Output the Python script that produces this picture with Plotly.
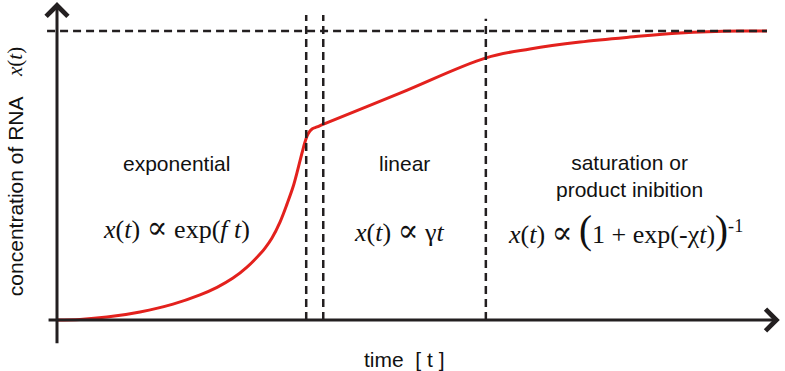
import plotly.graph_objects as go

# ---- data (schematic growth curve of RNA concentration) ----
t_vals = [0, 0.324, 0.704, 1.169, 1.634, 2.014, 2.254, 2.479, 2.676, 2.859, 2.930, 3.028,
          3.141, 3.239, 3.324, 3.394, 3.451, 3.493, 3.535, 3.592, 3.662, 3.746, 4.831,
          6.042, 6.662, 7.366, 8.070, 8.775, 9.620, 10.0]
x_vals = [0, 0.002, 0.010, 0.028, 0.055, 0.087, 0.113, 0.145, 0.183, 0.228, 0.249, 0.284,
          0.339, 0.401, 0.460, 0.523, 0.578, 0.616, 0.644, 0.661, 0.668, 0.677, 0.785,
          0.907, 0.938, 0.962, 0.979, 0.993, 1.0, 1.0]
phase_bounds = [3.51, 3.75, 6.04]
plateau = 1.0
region_labels = ["exponential", "linear", "saturation or<br>product inibition"]
PROP = "<span style=\"font-family:'DejaVu Serif';font-size:31px\">∝</span>"
region_formulas = [
    "<i>x</i>(<i>t</i>) " + PROP + " exp(<i>f t</i>)",
    "<i>x</i>(<i>t</i>) " + PROP + " γ<i>t</i>",
    "<i>x</i>(<i>t</i>) " + PROP + " <span style=\"font-size:39px\">(</span>1 + exp(-χ<i>t</i>)"
    "<span style=\"font-size:39px\">)</span><sup>-1</sup>",
]
x_title = "time  [ t ]"
y_title = "concentration of RNA"
y_symbol = "<i>x</i>(<i>t</i>)"

INK = "#231f20"
RED = "#e3211d"
SANS = "Liberation Sans, Arial, sans-serif"
SERIF = "Liberation Serif, Times New Roman, serif"

fig = go.Figure()
fig.add_trace(go.Scatter(x=t_vals, y=x_vals, mode="lines",
                         line=dict(color=RED, width=3, shape="spline", smoothing=1.0),
                         hoverinfo="skip", showlegend=False))

# dashed guide lines
shapes = [dict(type="line", xref="x", yref="y", x0=-0.14, x1=10.0, y0=plateau, y1=plateau,
               line=dict(color=INK, width=2.5, dash="8px,5px"), layer="above")]
tops = [1.055, 1.055, 1.042]
for b, top in zip(phase_bounds, tops):
    shapes.append(dict(type="line", xref="x", yref="y", x0=b, x1=b, y0=0, y1=top,
                       line=dict(color=INK, width=2.5, dash="8px,5px"), layer="above"))

ann = []
# axes with arrows
ann.append(dict(x=10.18, y=0, ax=-0.14, ay=0, xref="x", yref="y", axref="x", ayref="y",
                text="", showarrow=True, arrowhead=4, arrowsize=1.4, arrowwidth=3,
                arrowcolor=INK, standoff=0))
ann.append(dict(x=0, y=1.100, ax=0, ay=-0.086, xref="x", yref="y", axref="x", ayref="y",
                text="", showarrow=True, arrowhead=4, arrowsize=1.4, arrowwidth=3,
                arrowcolor=INK, standoff=0))

label_pos = [(1.69, 0.543), (4.90, 0.543), (8.07, 0.498)]
formula_pos = [(1.69, 0.322), (4.83, 0.311), (8.00, 0.311)]
for txt, (px, py) in zip(region_labels, label_pos):
    ann.append(dict(x=px, y=py, xref="x", yref="y", text=txt, showarrow=False,
                    font=dict(family=SANS, size=21, color="#111")))
for txt, (px, py) in zip(region_formulas, formula_pos):
    ann.append(dict(x=px, y=py, xref="x", yref="y", text=txt, showarrow=False,
                    font=dict(family=SERIF, size=26, color="#111")))

ann.append(dict(x=4.90, y=-0.138, xref="x", yref="y", text=x_title, showarrow=False,
                font=dict(family=SANS, size=21, color="#111")))
ann.append(dict(x=-0.59, y=0.429, xref="x", yref="y", text=y_title, showarrow=False,
                textangle=-90, font=dict(family=SANS, size=21, color="#111")))
ann.append(dict(x=-0.59, y=0.893, xref="x", yref="y", text=y_symbol, showarrow=False,
                textangle=-90, font=dict(family=SERIF, size=21, color="#111")))

fig.update_layout(
    width=785, height=371,
    margin=dict(l=0, r=0, t=0, b=0),
    paper_bgcolor="white", plot_bgcolor="white",
    xaxis=dict(range=[-0.8028, 10.2535], visible=False, fixedrange=True),
    yaxis=dict(range=[-0.17647, 1.10727], visible=False, fixedrange=True),
    shapes=shapes, annotations=ann, showlegend=False,
)

fig.write_html("out.html", config={"displayModeBar": False},
               post_script="document.body.style.margin='0px';document.body.style.overflow='hidden';")
